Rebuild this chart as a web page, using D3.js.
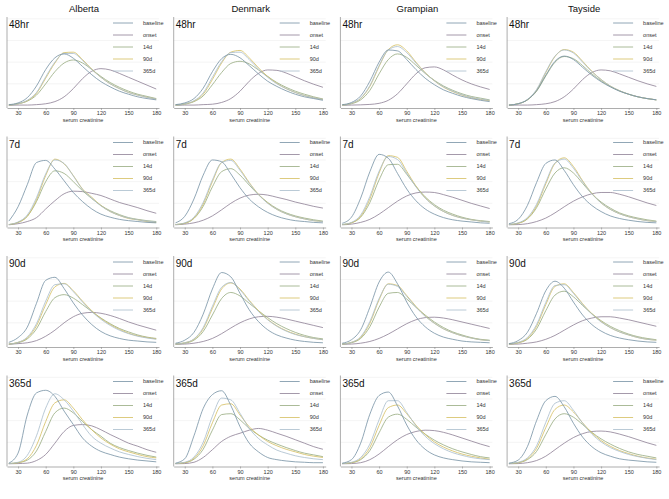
<!DOCTYPE html>
<html>
<head>
<meta charset="utf-8">
<script src="https://cdn.jsdelivr.net/npm/d3@7"></script>
<style>
  body { margin: 0; background: #fff; }
  text { font-family: "Liberation Sans", Arial, sans-serif; }
</style>
</head>
<body>
<div id="chart"></div>
<script>
// regions (columns) and time points (rows)
const regions = ["Alberta", "Denmark", "Grampian", "Tayside"];
const timepoints = ["48hr", "7d", "90d", "365d"];
const seriesNames = ["baseline", "onset", "14d", "90d", "365d"];
const seriesColors = ["#7590a3", "#8d7f94", "#96a97e", "#d4be5e", "#a8bccb"];

// serum creatinine grid and ticks
const creat = [20, 30, 40, 50, 60, 70, 80, 90, 100, 110, 120, 130, 140, 150, 160, 170, 180];
const xTicks = [30, 60, 90, 120, 150, 180];
const yGrid = [5, 10, 15, 20]; // density x1000

// density x1000, order: baseline, onset, 14d, 90d, 365d
const alberta48hr = [
  [0.2, 0.6, 1.8, 4.5, 8.3, 11.0, 11.9, 10.9, 9.0, 7.1, 5.5, 4.3, 3.3, 2.6, 2.0, 1.6, 1.3],
  [0.05, 0.1, 0.1, 0.2, 0.4, 0.9, 2.0, 3.9, 6.2, 7.9, 8.5, 8.2, 7.4, 6.5, 5.6, 4.7, 3.8],
  [0.1, 0.4, 1.0, 2.4, 5.0, 7.8, 9.8, 10.5, 9.8, 8.3, 6.7, 5.3, 4.2, 3.3, 2.6, 2.1, 1.6],
  [0.1, 0.4, 1.1, 2.8, 6.3, 9.8, 12.2, 12.3, 10.6, 8.4, 6.5, 5.0, 3.9, 3.0, 2.4, 1.9, 1.5],
  [0.1, 0.4, 1.2, 3.0, 6.6, 10.0, 12.0, 12.0, 10.4, 8.3, 6.5, 5.0, 3.9, 3.0, 2.4, 1.9, 1.5]
];
const denmark48hr = [
  [0.2, 0.6, 1.6, 4.0, 7.8, 10.8, 11.8, 11.0, 9.2, 7.3, 5.6, 4.4, 3.4, 2.6, 2.0, 1.6, 1.2],
  [0.05, 0.1, 0.1, 0.2, 0.3, 0.7, 1.6, 3.3, 5.6, 7.4, 8.2, 8.1, 7.5, 6.6, 5.7, 4.9, 4.2],
  [0.1, 0.3, 0.9, 2.2, 4.8, 7.6, 9.7, 10.2, 9.6, 8.2, 6.7, 5.3, 4.2, 3.3, 2.6, 2.0, 1.5],
  [0.1, 0.4, 1.0, 2.6, 6.0, 9.8, 12.3, 12.7, 11.0, 8.7, 6.7, 5.1, 3.9, 3.0, 2.3, 1.8, 1.4],
  [0.1, 0.4, 1.1, 2.9, 6.5, 10.1, 12.2, 12.3, 10.6, 8.4, 6.5, 5.0, 3.9, 3.0, 2.3, 1.8, 1.4]
];
const grampian48hr = [
  [0.2, 0.7, 2.2, 5.6, 10.0, 12.8, 12.6, 10.6, 8.3, 6.3, 4.8, 3.6, 2.8, 2.1, 1.6, 1.2, 0.9],
  [0.05, 0.1, 0.15, 0.25, 0.5, 1.2, 2.7, 5.0, 7.3, 8.7, 8.9, 8.2, 7.0, 5.9, 5.0, 4.3, 3.7],
  [0.1, 0.4, 1.3, 3.5, 7.3, 10.6, 11.9, 11.1, 9.3, 7.4, 5.8, 4.5, 3.5, 2.7, 2.1, 1.7, 1.3],
  [0.1, 0.5, 1.6, 4.4, 9.0, 12.9, 14.0, 12.6, 10.0, 7.6, 5.7, 4.2, 3.2, 2.4, 1.8, 1.4, 1.1],
  [0.1, 0.5, 1.7, 4.6, 9.2, 12.8, 13.6, 12.2, 9.8, 7.5, 5.7, 4.3, 3.3, 2.5, 1.9, 1.5, 1.2]
];
const tayside48hr = [
  [0.1, 0.4, 1.3, 3.4, 7.0, 10.2, 11.4, 10.6, 8.8, 7.0, 5.5, 4.3, 3.3, 2.6, 2.0, 1.6, 1.3],
  [0.05, 0.1, 0.1, 0.2, 0.4, 0.9, 2.0, 3.8, 6.0, 7.6, 8.2, 8.0, 7.3, 6.5, 5.7, 5.0, 4.4],
  [0.1, 0.4, 1.3, 3.3, 6.8, 10.0, 11.3, 10.8, 9.2, 7.3, 5.7, 4.4, 3.4, 2.6, 2.0, 1.6, 1.3],
  [0.1, 0.4, 1.3, 3.5, 7.6, 11.3, 12.9, 12.3, 10.2, 7.9, 6.0, 4.5, 3.4, 2.6, 2.0, 1.6, 1.3],
  [0.1, 0.4, 1.4, 3.7, 7.8, 11.4, 12.8, 12.1, 10.0, 7.8, 6.0, 4.5, 3.4, 2.6, 2.0, 1.6, 1.3]
];

const alberta7d = [
  [0.9, 4.2, 9.3, 14.4, 14.9, 12.9, 10.2, 7.5, 5.4, 3.7, 2.5, 1.8, 1.3, 1.0, 0.8, 0.6, 0.5],
  [0.05, 0.3, 0.8, 1.7, 3.7, 5.6, 7.2, 7.8, 7.7, 7.3, 6.8, 6.0, 5.2, 4.6, 4.0, 3.3, 2.7],
  [0.1, 0.6, 2.0, 5.4, 10.0, 12.5, 11.9, 10.0, 7.9, 6.1, 4.5, 3.3, 2.4, 1.7, 1.3, 1.0, 0.8],
  [0.1, 0.6, 2.0, 5.8, 11.4, 15.2, 14.1, 11.4, 8.3, 6.4, 4.5, 3.1, 2.2, 1.5, 1.2, 0.8, 0.6],
  [0.1, 0.7, 2.3, 6.3, 11.8, 15.0, 14.2, 11.3, 8.2, 6.2, 4.4, 3.1, 2.2, 1.6, 1.2, 0.9, 0.7]
];
const denmark7d = [
  [0.5, 2.0, 6.0, 11.5, 15.0, 14.6, 11.8, 8.6, 6.0, 4.2, 2.9, 2.0, 1.4, 1.0, 0.8, 0.6, 0.5],
  [0.05, 0.2, 0.5, 1.1, 2.1, 3.5, 5.0, 6.2, 6.9, 7.1, 6.9, 6.4, 5.9, 5.3, 4.8, 4.3, 3.9],
  [0.1, 0.4, 1.5, 4.3, 8.8, 12.3, 13.0, 11.5, 9.2, 7.0, 5.2, 3.8, 2.8, 2.1, 1.6, 1.2, 0.9],
  [0.1, 0.4, 1.6, 4.8, 10.0, 14.4, 15.2, 12.9, 9.8, 7.1, 5.1, 3.6, 2.6, 1.9, 1.4, 1.0, 0.8],
  [0.1, 0.5, 1.8, 5.2, 10.4, 14.4, 14.9, 12.6, 9.6, 7.0, 5.0, 3.6, 2.6, 1.9, 1.4, 1.0, 0.8]
];
const grampian7d = [
  [0.4, 1.8, 6.2, 12.3, 16.3, 15.4, 11.9, 8.3, 5.6, 3.7, 2.5, 1.7, 1.2, 0.9, 0.7, 0.5, 0.4],
  [0.05, 0.2, 0.6, 1.3, 2.5, 4.0, 5.5, 6.7, 7.4, 7.6, 7.5, 7.0, 6.4, 5.7, 5.0, 4.4, 3.8],
  [0.1, 0.5, 1.8, 5.2, 10.4, 13.9, 14.0, 11.7, 8.9, 6.5, 4.7, 3.4, 2.5, 1.8, 1.3, 1.0, 0.8],
  [0.1, 0.5, 2.0, 6.0, 12.0, 16.0, 15.6, 12.4, 9.0, 6.3, 4.4, 3.1, 2.2, 1.6, 1.2, 0.9, 0.7],
  [0.1, 0.6, 2.3, 6.6, 12.4, 15.8, 15.1, 12.0, 8.8, 6.2, 4.4, 3.1, 2.2, 1.6, 1.2, 0.9, 0.7]
];
const tayside7d = [
  [0.3, 1.3, 4.5, 9.8, 14.2, 15.0, 12.6, 9.3, 6.5, 4.5, 3.1, 2.1, 1.5, 1.1, 0.8, 0.6, 0.5],
  [0.05, 0.1, 0.3, 0.8, 1.6, 2.8, 4.2, 5.5, 6.5, 7.2, 7.5, 7.5, 7.1, 6.5, 5.8, 5.1, 4.5],
  [0.1, 0.4, 1.4, 4.0, 8.3, 12.0, 13.2, 12.0, 9.6, 7.2, 5.3, 3.9, 2.8, 2.1, 1.6, 1.2, 0.9],
  [0.1, 0.4, 1.5, 4.4, 9.5, 14.2, 15.5, 13.5, 10.2, 7.3, 5.1, 3.6, 2.6, 1.9, 1.4, 1.0, 0.8],
  [0.1, 0.5, 1.7, 4.8, 9.9, 14.3, 15.2, 13.1, 10.0, 7.2, 5.1, 3.6, 2.6, 1.9, 1.4, 1.0, 0.8]
];

const alberta90d = [
  [0.5, 1.6, 4.0, 9.5, 14.8, 15.5, 12.9, 9.6, 6.8, 4.6, 3.0, 2.0, 1.4, 1.0, 0.8, 0.6, 0.5],
  [0.05, 0.2, 0.4, 0.9, 1.9, 3.3, 5.0, 6.4, 7.2, 7.4, 7.2, 6.7, 6.0, 5.2, 4.5, 3.9, 3.3],
  [0.1, 0.4, 1.3, 3.6, 7.6, 10.8, 11.5, 10.7, 9.2, 7.6, 6.1, 4.8, 3.7, 2.9, 2.2, 1.7, 1.4],
  [0.1, 0.5, 1.5, 4.3, 9.2, 13.3, 14.1, 12.4, 10.0, 7.8, 6.0, 4.6, 3.5, 2.6, 2.0, 1.6, 1.3],
  [0.1, 0.5, 1.7, 4.8, 10.0, 13.8, 14.0, 12.2, 9.8, 7.6, 5.8, 4.4, 3.3, 2.5, 1.9, 1.5, 1.2]
];
const denmark90d = [
  [0.3, 1.0, 2.8, 7.0, 12.8, 16.6, 15.6, 11.8, 8.0, 5.3, 3.4, 2.2, 1.5, 1.0, 0.7, 0.5, 0.4],
  [0.05, 0.1, 0.3, 0.7, 1.4, 2.5, 3.8, 5.0, 5.9, 6.4, 6.5, 6.3, 5.9, 5.4, 4.9, 4.4, 3.9],
  [0.1, 0.3, 1.0, 3.0, 6.8, 10.6, 12.0, 11.2, 9.5, 7.8, 6.2, 4.8, 3.7, 2.8, 2.1, 1.6, 1.3],
  [0.1, 0.4, 1.2, 3.6, 8.3, 12.8, 14.2, 12.8, 10.2, 7.8, 5.8, 4.3, 3.2, 2.4, 1.8, 1.4, 1.1],
  [0.1, 0.4, 1.3, 3.9, 8.8, 13.2, 14.3, 12.6, 10.0, 7.6, 5.7, 4.2, 3.1, 2.3, 1.8, 1.4, 1.1]
];
const grampian90d = [
  [0.3, 1.1, 3.4, 8.6, 14.4, 16.7, 14.0, 9.8, 6.4, 4.1, 2.6, 1.7, 1.2, 0.8, 0.6, 0.5, 0.4],
  [0.05, 0.1, 0.3, 0.7, 1.4, 2.4, 3.6, 4.8, 5.7, 6.2, 6.3, 6.1, 5.7, 5.2, 4.7, 4.2, 3.7],
  [0.1, 0.4, 1.4, 4.1, 8.6, 11.8, 12.0, 10.5, 8.6, 6.8, 5.2, 3.9, 2.9, 2.2, 1.6, 1.2, 1.0],
  [0.1, 0.5, 1.6, 4.9, 10.3, 14.0, 13.6, 11.3, 8.8, 6.6, 4.9, 3.6, 2.7, 2.0, 1.5, 1.1, 0.9],
  [0.1, 0.5, 1.8, 5.3, 10.6, 13.9, 13.4, 11.1, 8.6, 6.5, 4.9, 3.6, 2.7, 2.0, 1.5, 1.1, 0.9]
];
const tayside90d = [
  [0.2, 0.9, 2.8, 7.2, 12.4, 14.6, 13.0, 9.8, 6.8, 4.6, 3.1, 2.1, 1.5, 1.1, 0.8, 0.6, 0.5],
  [0.05, 0.1, 0.3, 0.6, 1.2, 2.1, 3.3, 4.5, 5.5, 6.1, 6.4, 6.4, 6.1, 5.7, 5.2, 4.7, 4.2],
  [0.1, 0.4, 1.2, 3.6, 7.8, 11.4, 12.3, 11.0, 9.0, 7.1, 5.5, 4.2, 3.2, 2.4, 1.8, 1.4, 1.1],
  [0.1, 0.4, 1.4, 4.2, 9.2, 13.4, 14.0, 12.0, 9.4, 7.1, 5.3, 3.9, 2.9, 2.2, 1.6, 1.2, 1.0],
  [0.1, 0.5, 1.6, 4.6, 9.7, 13.6, 13.8, 11.8, 9.2, 7.0, 5.2, 3.9, 2.9, 2.2, 1.6, 1.2, 1.0]
];

const alberta365d = [
  [0.2, 2.5, 11.3, 16.4, 17.0, 15.6, 12.2, 9.1, 6.0, 4.1, 2.9, 2.2, 1.6, 1.2, 0.9, 0.7, 0.5],
  [0.05, 0.1, 0.2, 0.8, 2.2, 4.8, 7.5, 8.9, 9.1, 8.8, 7.9, 6.8, 5.8, 4.8, 4.1, 3.3, 2.7],
  [0.1, 0.3, 0.9, 3.0, 7.5, 11.8, 12.9, 11.8, 9.8, 7.9, 6.4, 4.8, 3.8, 3.1, 2.5, 2.0, 1.6],
  [0.1, 0.3, 1.2, 4.3, 9.8, 14.1, 14.8, 12.9, 10.2, 7.9, 6.0, 4.6, 3.5, 2.8, 2.2, 1.7, 1.4],
  [0.1, 0.4, 2.0, 6.5, 12.9, 16.2, 14.8, 12.2, 9.1, 6.4, 4.8, 3.7, 2.8, 2.2, 1.7, 1.3, 1.0]
];
const denmark365d = [
  [0.2, 1.2, 6.5, 12.8, 16.0, 16.9, 13.5, 8.6, 4.8, 2.8, 1.5, 1.0, 0.7, 0.5, 0.4, 0.3, 0.3],
  [0.05, 0.1, 0.4, 1.5, 3.3, 5.2, 6.4, 7.1, 7.8, 8.2, 7.8, 7.1, 6.4, 5.6, 4.8, 4.0, 3.4],
  [0.1, 0.3, 1.1, 3.4, 7.8, 11.4, 11.6, 10.2, 8.2, 6.7, 5.5, 4.6, 3.8, 3.1, 2.5, 2.1, 1.7],
  [0.1, 0.3, 1.3, 4.2, 9.5, 13.6, 13.9, 11.3, 8.6, 6.7, 5.2, 4.2, 3.4, 2.8, 2.2, 1.8, 1.5],
  [0.1, 0.4, 1.6, 5.0, 11.0, 15.2, 14.8, 11.7, 8.2, 5.9, 4.4, 3.2, 2.5, 1.9, 1.5, 1.2, 1.0]
];
const grampian365d = [
  [0.2, 1.0, 4.8, 11.5, 15.8, 16.6, 13.4, 9.0, 5.6, 3.4, 2.1, 1.4, 1.0, 0.7, 0.5, 0.4, 0.3],
  [0.05, 0.1, 0.3, 1.0, 2.3, 4.0, 5.6, 6.8, 7.5, 7.8, 7.7, 7.3, 6.7, 6.0, 5.3, 4.6, 4.0],
  [0.1, 0.3, 1.0, 3.1, 7.2, 10.8, 11.5, 10.3, 8.5, 6.9, 5.5, 4.4, 3.5, 2.8, 2.2, 1.7, 1.4],
  [0.1, 0.3, 1.2, 3.8, 8.9, 13.0, 13.6, 11.6, 9.0, 6.8, 5.1, 3.9, 3.0, 2.3, 1.8, 1.4, 1.1],
  [0.1, 0.4, 1.5, 4.6, 10.2, 14.6, 14.6, 11.9, 8.8, 6.4, 4.7, 3.5, 2.6, 2.0, 1.5, 1.2, 1.0]
];
const tayside365d = [
  [0.2, 0.9, 4.0, 10.0, 14.6, 15.6, 13.2, 9.4, 6.2, 4.0, 2.6, 1.8, 1.2, 0.9, 0.7, 0.5, 0.4],
  [0.05, 0.1, 0.3, 0.8, 1.8, 3.3, 4.8, 6.1, 7.0, 7.5, 7.6, 7.4, 6.9, 6.3, 5.6, 4.9, 4.3],
  [0.1, 0.3, 1.0, 2.9, 6.8, 10.4, 11.6, 10.8, 9.1, 7.3, 5.8, 4.6, 3.6, 2.8, 2.2, 1.8, 1.4],
  [0.1, 0.3, 1.2, 3.6, 8.4, 12.6, 13.6, 12.0, 9.5, 7.2, 5.4, 4.1, 3.1, 2.4, 1.8, 1.4, 1.1],
  [0.1, 0.4, 1.4, 4.2, 9.6, 14.0, 14.6, 12.4, 9.4, 6.9, 5.1, 3.8, 2.9, 2.2, 1.7, 1.3, 1.0]
];

// rows = timepoints, cols = regions
const panels = [
  [alberta48hr, denmark48hr, grampian48hr, tayside48hr],
  [alberta7d, denmark7d, grampian7d, tayside7d],
  [alberta90d, denmark90d, grampian90d, tayside90d],
  [alberta365d, denmark365d, grampian365d, tayside365d]
];

const W = 669, H = 499;
const colStep = 166.7, rowStep = 119.5;
const plotW = 152, plotH = 91;

const svg = d3.select("#chart").append("svg")
  .attr("width", W)
  .attr("height", H)
  .style("display", "block");

svg.append("rect").attr("width", W).attr("height", H).attr("fill", "#fff");

// column titles
regions.forEach((name, c) => {
  svg.append("text")
    .attr("x", 7 + c * colStep + 77)
    .attr("y", 12)
    .attr("text-anchor", "middle")
    .style("font-size", "9.5px")
    .attr("fill", "#111")
    .text(name);
});

const drawOrder = [1, 2, 3, 4, 0];

timepoints.forEach((tp, r) => {
  regions.forEach((reg, c) => {
    const left = 7 + c * colStep;
    const top = 17 + r * rowStep;
    const bottom = top + plotH;
    const zero = bottom - 2.5;

    const g = svg.append("g");

    const x = d3.scaleLinear().domain([18, 183]).range([left, left + plotW]);
    const y = d3.scaleLinear().domain([0, 20]).range([zero, zero - 86.7]);

    // grid
    g.selectAll(".grid")
      .data(yGrid)
      .join("line")
      .attr("x1", left)
      .attr("x2", left + plotW)
      .attr("y1", d => y(d))
      .attr("y2", d => y(d))
      .attr("stroke", "#ededed")
      .attr("stroke-width", 0.6);

    // curves
    const line = d3.line()
      .x((d, i) => x(creat[i]))
      .y(d => y(d))
      .curve(d3.curveMonotoneX);

    drawOrder.forEach(s => {
      g.append("path")
        .datum(panels[r][c][s])
        .attr("fill", "none")
        .attr("stroke", seriesColors[s])
        .attr("stroke-width", 0.8)
        .attr("d", line);
    });

    // y axis line
    g.append("line")
      .attr("x1", left).attr("x2", left)
      .attr("y1", top).attr("y2", bottom)
      .attr("stroke", "#8a8a8a")
      .attr("stroke-width", 0.7);

    // x axis
    const xa = g.append("g")
      .attr("transform", `translate(0,${bottom})`)
      .call(d3.axisBottom(x).tickValues(xTicks).tickSize(2).tickPadding(1.5).tickSizeOuter(0));
    xa.select(".domain").attr("stroke", "#8a8a8a").attr("stroke-width", 0.7);
    xa.selectAll(".tick line").attr("stroke", "#8a8a8a").attr("stroke-width", 0.6);
    xa.selectAll(".tick text")
      .style("font-size", "5.5px")
      .style("font-family", '"Liberation Sans", Arial, sans-serif')
      .attr("fill", "#333");

    g.append("text")
      .attr("x", left + 76)
      .attr("y", bottom + 13.5)
      .attr("text-anchor", "middle")
      .style("font-size", "5.5px")
      .attr("fill", "#333")
      .text("serum creatinine");

    // panel label
    g.append("text")
      .attr("x", left + 2)
      .attr("y", top + 11)
      .style("font-size", "10px")
      .attr("fill", "#111")
      .text(tp);

    // legend
    seriesNames.forEach((name, i) => {
      const ly = top + 6 + i * 12;
      g.append("line")
        .attr("x1", left + 106).attr("x2", left + 126)
        .attr("y1", ly).attr("y2", ly)
        .attr("stroke", seriesColors[i])
        .attr("stroke-width", 0.8);
      g.append("text")
        .attr("x", left + 136)
        .attr("y", ly)
        .attr("dy", "0.35em")
        .style("font-size", "5.5px")
        .attr("fill", "#333")
        .text(name);
    });
  });
});
</script>
</body>
</html>
